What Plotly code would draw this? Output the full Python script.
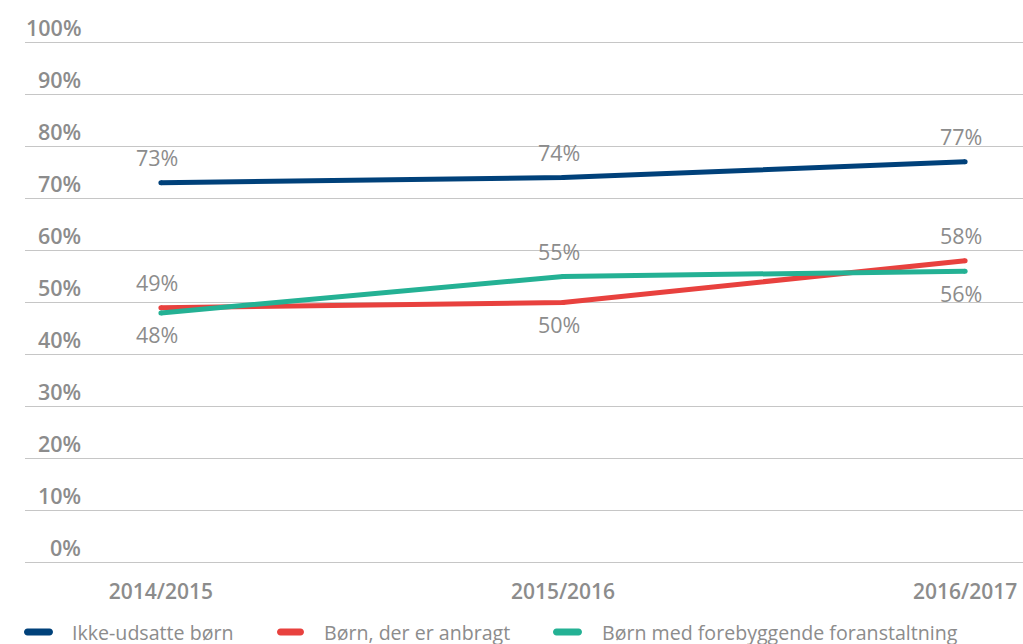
import plotly.graph_objects as go

# School years on the x axis
years = ["2014/2015", "2015/2016", "2016/2017"]

# Share of children (%) per group
ikke_udsatte = [73, 74, 77]
anbragt = [49, 50, 58]
forebyggende = [48, 55, 56]

series_names = [
    "Ikke-udsatte børn",
    "Børn, der er anbragt",
    "Børn med forebyggende foranstaltning",
]
series_values = [ikke_udsatte, anbragt, forebyggende]
series_colors = ["#00417a", "#e8413e", "#24b194"]
# Where each series' value labels sit relative to the line (+1 above, -1 below)
label_side = [
    [1, 1, 1],
    [1, -1, 1],
    [-1, 1, -1],
]

y_ticks = [0, 10, 20, 30, 40, 50, 60, 70, 80, 90, 100]

FONT = "Open Sans"
GREY = "#8c8c8c"

W, H = 1023, 644
M_L, M_R, M_T, M_B = 25, 0, 41, 80
plot_w = W - M_L - M_R
plot_h = H - M_T - M_B


def px_x(px):
    """Pixel x in the page -> paper coordinate."""
    return (px - M_L) / plot_w


def px_y(py):
    """Pixel y in the page (from top) -> paper coordinate."""
    return (H - M_B - py) / plot_h


fig = go.Figure()
xs = list(range(len(years)))
for name, vals, color in zip(series_names, series_values, series_colors):
    fig.add_trace(go.Scatter(
        x=xs, y=vals, name=name, mode="lines+markers",
        line=dict(color=color, width=5),
        marker=dict(color=color, size=5, line=dict(width=0)),
        hoverinfo="skip", showlegend=False,
    ))

annotations = []
# Value labels above / below the lines
for vals, sides in zip(series_values, label_side):
    for i, (v, s) in enumerate(zip(vals, sides)):
        annotations.append(dict(
            x=i, y=v, xref="x", yref="y", text=f"{v}%", showarrow=False,
            xanchor="center", yanchor="middle",
            xshift=-4, yshift=25 if s > 0 else -22,
            font=dict(family=FONT, size=21.5, color=GREY),
        ))

# Y tick labels sitting above each gridline
for t in y_ticks:
    annotations.append(dict(
        x=px_x(83), y=t, xref="paper", yref="y", text=f"{t}%", showarrow=False,
        xanchor="right", yanchor="middle", yshift=15,
        font=dict(family=FONT, size=21.5, color=GREY, weight=600),
    ))

# Legend along the bottom: rounded swatch + label
shapes = []
legend_y = 632
legend_items = [(24, 53, 73), (277, 304, 325), (553, 582, 603)]
for (x0, x1, tx), name, color in zip(legend_items, series_names, series_colors):
    r = 3.5
    length = x1 - x0
    k = r * 0.5523
    path = (
        f"M {r},{-r} L {length - r},{-r} "
        f"C {length - r + k},{-r} {length},{-k} {length},0 "
        f"C {length},{k} {length - r + k},{r} {length - r},{r} "
        f"L {r},{r} "
        f"C {r - k},{r} 0,{k} 0,0 "
        f"C 0,{-k} {r - k},{-r} {r},{-r} Z"
    )
    shapes.append(dict(
        type="path", xref="paper", yref="paper",
        xsizemode="pixel", ysizemode="pixel",
        xanchor=px_x(x0), yanchor=px_y(legend_y),
        path=path, fillcolor=color, line=dict(width=0), layer="above",
    ))
    annotations.append(dict(
        x=px_x(tx - 3), y=px_y(legend_y), xref="paper", yref="paper",
        text=name, showarrow=False, xanchor="left", yanchor="middle",
        font=dict(family=FONT, size=19.6, color=GREY),
    ))

fig.update_layout(
    width=W, height=H,
    margin=dict(l=M_L, r=M_R, t=M_T, b=M_B, autoexpand=False),
    paper_bgcolor="white", plot_bgcolor="white",
    showlegend=False,
    xaxis=dict(
        range=[-0.338, 2.144], tickmode="array", tickvals=xs, ticktext=years,
        showgrid=False, zeroline=False, showline=False, ticks="",
        tickfont=dict(family=FONT, size=21, color=GREY, weight=600),
        ticklabelstandoff=13, fixedrange=True,
    ),
    yaxis=dict(
        range=[-0.2, 100.2], tickmode="array", tickvals=y_ticks,
        showticklabels=False, showgrid=True, gridcolor="#c6c6c6", gridwidth=1.3,
        zeroline=True, zerolinecolor="#c6c6c6", zerolinewidth=1.3,
        showline=False, ticks="", fixedrange=True,
    ),
    annotations=annotations,
    shapes=shapes,
)

fig.write_html("out.html")
